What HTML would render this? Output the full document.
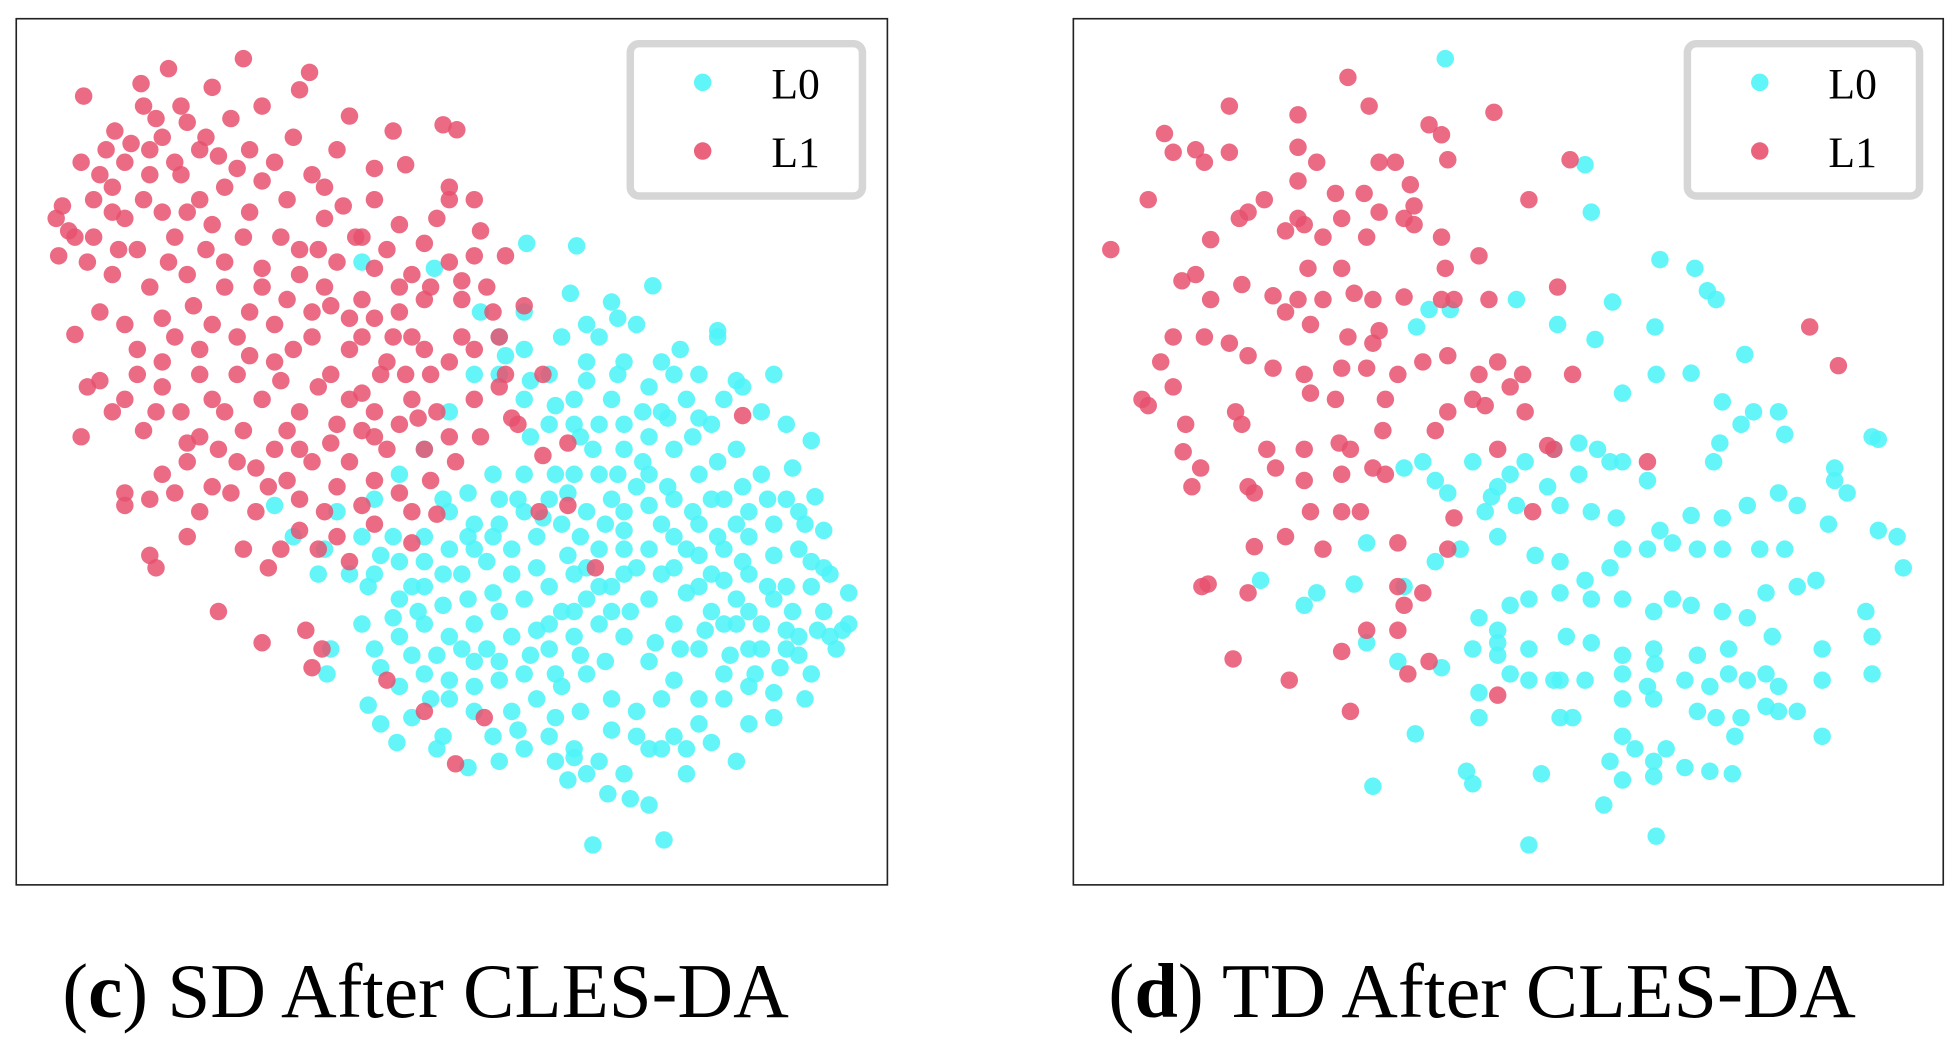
<!DOCTYPE html>
<html><head><meta charset="utf-8"><style>html,body{margin:0;padding:0;background:#fff;}svg{display:block;}</style></head>
<body>
<svg id="fig" width="1957" height="1043" viewBox="0 0 1568 835.7" xmlns="http://www.w3.org/2000/svg">
<rect x="0" y="0" width="1568" height="835.7" fill="#fff"/>
<g id="pc"></g>
<g id="pd"></g>
<text x="50" y="815" font-family="Liberation Serif, serif" font-size="62" textLength="582" lengthAdjust="spacingAndGlyphs">(<tspan font-weight="bold">c</tspan>) SD After CLES-DA</text>
<text x="888" y="815" font-family="Liberation Serif, serif" font-size="62" textLength="599" lengthAdjust="spacingAndGlyphs">(<tspan font-weight="bold">d</tspan>) TD After CLES-DA</text>
</svg>
<script>
// t-SNE embedding values (arbitrary units), panel c
const cL1 = [[195,47],[135,55],[113,67],[67,77],[170,70],[240,72],[248,58],[210,85],[115,85],[150,98],[185,95],[280,93],[92,105],[130,110],[235,110],[270,120],[355,100],[366,104],[315,105],[300,135],[325,132],[260,150],[45,175],[50,165],[47,205],[75,160],[100,130],[80,140],[90,150],[120,140],[140,130],[160,120],[200,120],[220,130],[180,150],[160,160],[130,170],[100,175],[75,190],[60,190],[110,200],[140,190],[170,180],[200,170],[230,160],[260,175],[290,190],[320,180],[350,175],[385,185],[360,150],[360,160],[380,160],[405,205],[380,205],[360,210],[330,220],[300,215],[270,210],[240,200],[210,215],[180,210],[150,220],[120,230],[90,220],[100,260],[80,250],[60,268],[80,305],[110,280],[140,270],[170,260],[200,250],[230,240],[260,230],[290,240],[320,250],[340,240],[370,240],[395,250],[420,245],[400,270],[380,280],[360,290],[330,270],[310,290],[280,280],[250,270],[220,290],[190,300],[160,300],[130,310],[100,320],[115,345],[65,350],[150,355],[180,330],[210,320],[240,330],[270,340],[300,330],[330,320],[350,330],[380,320],[405,300],[400,310],[435,300],[455,355],[435,365],[415,340],[385,350],[360,350],[340,360],[310,360],[280,370],[250,370],[220,360],[190,370],[170,390],[130,380],[120,400],[100,395],[100,405],[150,430],[120,445],[125,455],[160,410],[185,395],[215,390],[240,400],[260,410],[290,405],[320,395],[345,385],[330,410],[300,420],[270,430],[240,425],[215,455],[195,440],[175,490],[210,515],[245,505],[250,535],[330,435],[350,412],[455,405],[477,455],[595,333],[410,335],[432,410],[258,520],[310,545],[388,575],[365,612],[340,570],[225,440],[305,300],[285,190],[235,280],[265,300],[290,315],
[55,185],[65,130],[85,120],[105,115],[125,95],[145,85],[165,110],[190,135],[210,145],[250,140],[275,165],[300,160],[310,200],[340,195],[345,230],[320,230],[300,255],[280,255],[250,250],[220,260],[190,270],[160,280],[130,290],[110,300],[90,330],[70,310],[130,255],[155,245],[180,230],[210,230],[240,220],[265,245],[290,270],[315,270],[340,280],[345,300],[325,300],[300,350],[280,320],[255,310],[225,305],[200,285],[170,320],[145,330],[125,330],[160,350],[195,345],[230,345],[265,355],[290,345],[320,340],[335,335],[365,370],[370,270],[390,230],[370,225],[240,360],[205,375],[175,360],[150,370],[140,395],[205,410],[230,385],[270,390],[300,385],[255,440],[280,450],[150,170],[115,160],[90,170],[70,210],[95,200],[225,190],[255,200],[195,190],[165,200],[135,210],[120,120],[175,125],[145,140]];
const cL0 = [[422,195],[462,197],[457,235],[490,242],[523,229],[575,265],[545,280],[530,290],[590,305],[610,330],[650,353],[653,398],[640,410],[660,425],[680,475],[675,505],[670,520],[640,510],[660,490],[620,480],[600,460],[580,440],[560,420],[540,400],[520,380],[500,360],[480,340],[460,320],[440,300],[420,280],[400,270],[385,250],[420,250],[450,270],[470,290],[500,290],[520,310],[550,320],[570,340],[590,360],[610,380],[630,400],[600,410],[580,400],[560,380],[540,360],[520,350],[490,320],[465,350],[445,380],[420,380],[400,400],[380,420],[360,410],[340,430],[320,450],[300,460],[295,470],[320,480],[340,470],[370,460],[390,450],[410,440],[430,430],[450,420],[470,410],[490,400],[510,390],[530,420],[550,440],[570,460],[590,480],[610,500],[630,520],[650,540],[620,555],[600,550],[580,540],[560,520],[540,500],[520,480],[500,460],[480,440],[460,460],[440,470],[420,480],[400,490],[380,500],[360,510],[340,500],[320,510],[300,520],[290,500],[265,520],[262,540],[295,565],[318,595],[305,580],[355,590],[375,615],[400,610],[420,600],[440,590],[460,600],[480,610],[500,620],[520,600],[540,590],[560,580],[590,610],[620,575],[645,560],[600,580],[580,560],[560,560],[540,545],[520,530],[500,510],[480,500],[460,510],[440,520],[420,540],[400,545],[380,550],[360,560],[340,540],[320,550],[487,636],[475,677],[532,673],[460,607],[470,620],[530,560],[550,620],[380,570],[410,570],[430,560],[450,550],[470,540],[490,560],[510,570],[680,500],[665,460],[640,440],[620,420],[590,420],[570,400],[500,440],[520,440],[480,470],[460,490],[440,500],[560,470],[580,500],[600,520],[630,470],[650,450],[440,400],[460,380],[480,380],[500,410],[420,410],[400,420],[380,440],[360,440],[340,450],[330,470],[260,440],[270,410],[290,430],[300,400],[320,380],[340,360],[360,330],[380,300],[400,300],[420,320],[440,340],[480,270],[510,260],[540,300],[560,300],[575,270],[620,300],[630,340],[595,310],[290,210],[348,215],[220,405],[255,460],[235,430],
[405,285],[425,305],[445,325],[470,305],[495,300],[515,330],[535,335],[555,350],[575,370],[595,390],[615,400],[635,375],[645,420],[660,455],[650,470],[635,490],[615,470],[595,450],[575,430],[555,410],[535,390],[515,370],[495,380],[475,360],[455,395],[435,415],[415,400],[395,430],[375,430],[355,460],[335,490],[315,495],[305,535],[330,525],[350,525],[370,520],[390,520],[410,510],[430,505],[450,490],[470,480],[490,470],[510,455],[530,460],[550,475],[570,490],[590,500],[610,520],[625,535],[640,525],[665,510],[655,505],[630,505],[605,540],[585,525],[565,505],[545,520],[525,515],[505,490],[485,530],[465,525],[445,540],[425,525],[400,530],[380,530],[360,545],[345,560],[330,575],[350,600],[395,590],[415,585],[445,575],[465,570],[490,585],[510,590],[530,600],[550,600],[570,595],[505,640],[520,645],[455,625],[445,610],[490,490],[470,455],[455,445],[430,455],[410,460],[395,475],[375,480],[355,485],[540,430],[560,445],[580,465],[600,490],[620,445],[600,430],[520,405],[500,425],[485,420],[465,430],[540,455],[395,380],[375,395],[355,400],[315,430],[305,445],[280,460],[425,350],[460,340],[500,340],[530,330],[560,335],[580,320],[470,260],[495,255]];
// panel d
const dL1 = [[1080,62],[1097,85],[1197,90],[985,85],[933,107],[940,122],[958,120],[965,130],[985,122],[1040,92],[1040,118],[1055,130],[1145,100],[1155,108],[1160,128],[1105,130],[1118,130],[1093,155],[1130,148],[1125,175],[1105,170],[1133,165],[1013,160],[1040,145],[1070,155],[1075,175],[1040,175],[1030,185],[1045,180],[1000,170],[993,175],[920,160],[970,192],[890,200],[1060,190],[1095,190],[1133,180],[1155,190],[1185,205],[1158,215],[1193,240],[1248,230],[1258,128],[1225,160],[947,225],[958,220],[1048,215],[1075,215],[1020,237],[1040,240],[1060,240],[1085,235],[1100,240],[1125,238],[1155,240],[1165,240],[1100,275],[1080,270],[1105,265],[1050,260],[1030,250],[970,240],[995,228],[985,275],[1000,285],[940,270],[965,270],[930,290],[915,320],[920,325],[940,310],[1020,295],[1045,300],[1075,295],[1095,295],[1120,300],[1140,290],[1160,285],[1185,300],[1200,290],[1220,300],[1260,300],[1070,320],[1050,315],[1110,320],[1160,330],[1180,320],[1190,325],[1222,330],[1245,360],[1200,360],[1150,345],[1108,345],[1082,360],[1073,355],[1045,360],[1015,360],[995,340],[990,330],[950,340],[948,362],[962,375],[955,390],[1000,390],[1005,395],[1045,385],[1075,380],[1110,380],[1100,375],[1022,375],[1050,410],[1075,410],[1090,410],[1030,430],[1005,438],[1060,440],[1120,435],[1160,440],[1165,415],[1228,410],[1320,370],[1450,262],[1473,293],[963,470],[968,468],[1000,475],[1120,470],[1120,505],[1140,475],[1125,485],[1095,505],[1075,522],[988,528],[1033,545],[1128,540],[1145,530],[1200,557],[1082,570],[1240,357],[1210,310]];
const dL0 = [[1158,47],[1270,132],[1275,170],[1330,208],[1358,215],[1368,233],[1375,240],[1292,242],[1215,240],[1145,248],[1162,248],[1135,262],[1248,260],[1278,272],[1326,262],[1398,284],[1355,299],[1327,300],[1300,315],[1380,322],[1405,330],[1425,330],[1430,348],[1395,340],[1378,355],[1373,370],[1300,370],[1320,385],[1265,355],[1280,360],[1290,370],[1245,360],[1222,370],[1265,380],[1240,390],[1210,380],[1180,370],[1140,370],[1125,375],[1150,385],[1195,398],[1200,390],[1160,395],[1190,410],[1215,405],[1250,405],[1275,410],[1295,415],[1330,425],[1355,413],[1380,415],[1400,405],[1425,395],[1440,405],[1470,385],[1480,395],[1500,350],[1505,352],[1470,375],[1505,425],[1520,430],[1525,455],[1465,420],[1430,440],[1410,440],[1380,440],[1360,440],[1340,435],[1320,440],[1300,440],[1290,455],[1270,465],[1250,450],[1230,445],[1200,430],[1170,440],[1150,450],[1125,470],[1095,435],[1085,468],[1055,475],[1045,485],[1010,465],[1095,515],[1120,530],[1155,535],[1185,495],[1200,505],[1210,485],[1225,480],[1250,475],[1275,480],[1300,480],[1325,490],[1340,480],[1355,485],[1380,490],[1400,495],[1415,475],[1440,470],[1455,465],[1420,510],[1460,520],[1495,490],[1500,510],[1385,520],[1360,525],[1325,520],[1300,525],[1275,515],[1255,510],[1225,520],[1200,515],[1180,520],[1210,540],[1225,545],[1250,545],[1270,545],[1300,540],[1320,550],[1350,545],[1370,550],[1385,540],[1400,545],[1415,540],[1425,550],[1460,545],[1500,540],[1425,570],[1440,570],[1395,575],[1375,575],[1360,570],[1325,560],[1300,560],[1250,575],[1300,590],[1310,600],[1290,610],[1300,625],[1325,622],[1335,600],[1285,645],[1325,610],[1245,545],[1185,575],[1134,588],[1175,618],[1180,628],[1235,620],[1100,630],[1225,677],[1327,670],[1350,615],[1370,618],[1388,620],[1460,590],[1390,590],[1415,566],[1326,532],[1185,555],[1260,575],[1200,525]];
const legendLabels = ["L0","L1"];

const NS = "http://www.w3.org/2000/svg";
const COL0 = "#4ff4f8", COL1 = "#e8516e";
function mk(tag, attrs, parent){const e=document.createElementNS(NS,tag);for(const k in attrs)e.setAttribute(k,attrs[k]);parent.appendChild(e);return e;}
function panel(g, fx, fy, fw, fh, xDom, yDom, l0, l1, lx, tag){
  const sx = v => fx + (v - xDom[0]) / (xDom[1] - xDom[0]) * fw;
  const sy = v => fy + (v - yDom[0]) / (yDom[1] - yDom[0]) * fh;
  const frame = mk('rect',{x:fx,y:fy,width:fw,height:fh,fill:'#fff',stroke:'#222','stroke-width':1.3},g);
  
  
  const s0 = mk('g',{},g);
  
  
  l0.forEach(p => {
    const c = mk('circle',{cx:sx(p[0]),cy:sy(p[1]),r:7,fill:COL0,'fill-opacity':0.88},s0);
    
    
  });
  const s1 = mk('g',{},g);
  
  
  l1.forEach(p => {
    const c = mk('circle',{cx:sx(p[0]),cy:sy(p[1]),r:7,fill:COL1,'fill-opacity':0.85},s1);
    
    
  });
  const lg = mk('g',{},g);
  
  
  mk('rect',{x:lx,y:35,width:186,height:122,rx:7,fill:'#fff',stroke:'#d6d6d6','stroke-width':6},lg);
  [COL0,COL1].forEach((col,i) => {
    const e = mk('g',{},lg);
    
    
    mk('circle',{cx:lx+58,cy:66+i*55,r:7,fill:col,'fill-opacity':0.9},e);
    const t = mk('text',{x:lx+113,y:79+i*55,'font-family':'Liberation Serif, serif','font-size':35},e);
    t.textContent = legendLabels[i];
  });
}
panel(document.getElementById('pc'), 13, 15, 698, 694, [13,711], [15,709], cL0, cL1, 505, 'c');
panel(document.getElementById('pd'), 860, 15, 697, 694, [860,1557], [15,709], dL0, dL1, 1352, 'd');
</script>
</body></html>
